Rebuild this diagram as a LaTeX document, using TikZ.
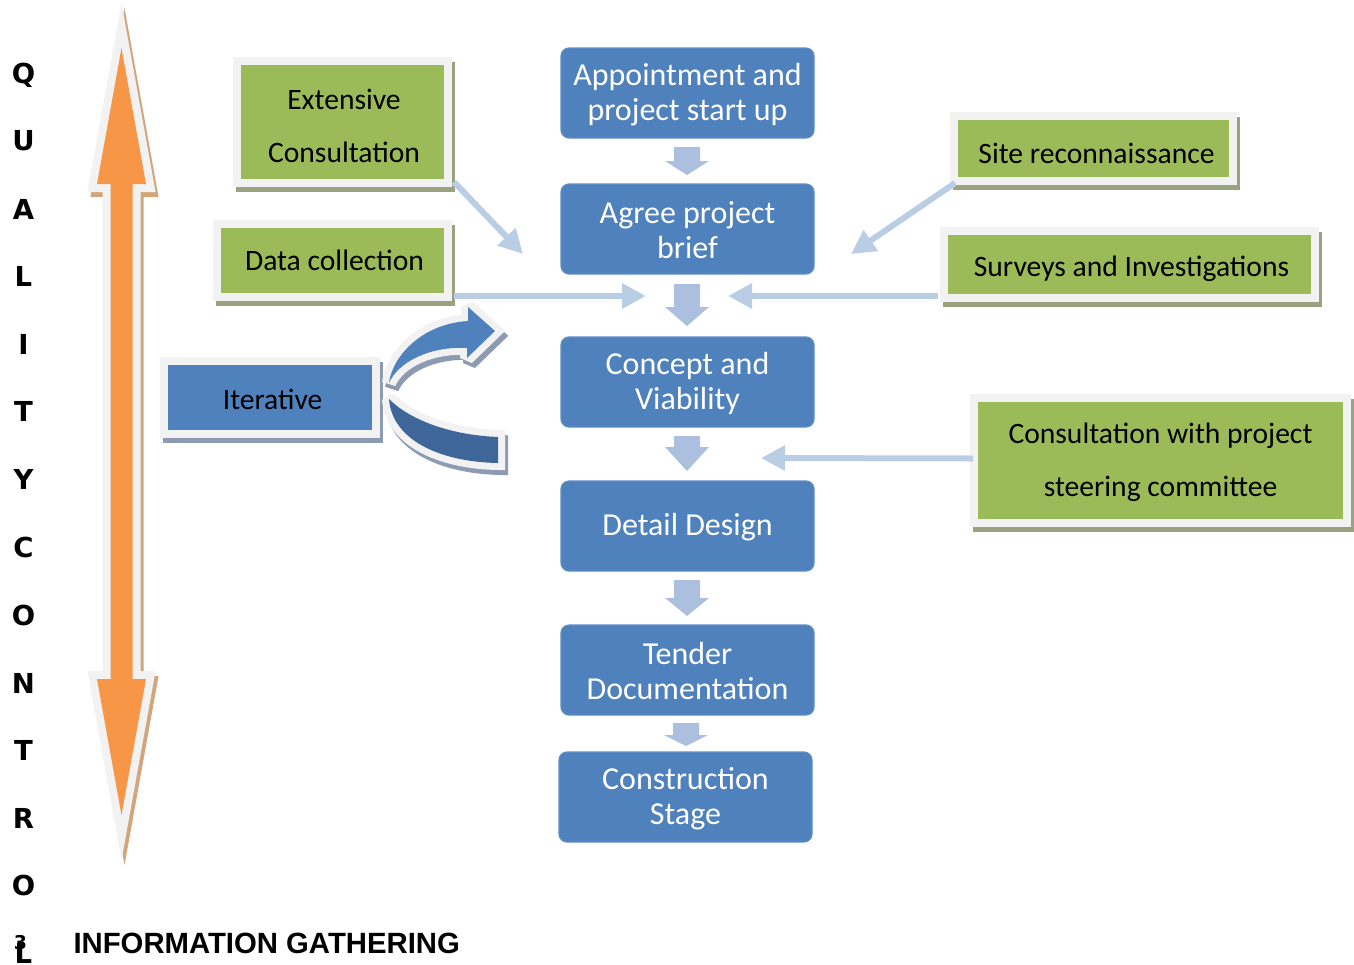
\documentclass[tikz,border=0pt]{standalone}
\usepackage{fontspec}
\setmainfont{Carlito}
\newfontfamily\headfont{Liberation Sans}
\newfontfamily\blackfont{DejaVu Sans}
\usetikzlibrary{arrows.meta,calc}

\definecolor{stepblue}{HTML}{4F81BD}
\definecolor{stepedge}{HTML}{5D8DC8}
\definecolor{flowcol}{HTML}{ADBFDF}
\definecolor{feedcol}{HTML}{B9CDE5}
\definecolor{inputgreen}{HTML}{9BBB59}
\definecolor{rimgrey}{HTML}{F2F2F2}
\definecolor{greenshade}{HTML}{9AA27F}
\definecolor{blueshade}{HTML}{8C9AB2}
\definecolor{tanshade}{HTML}{D3A57A}
\definecolor{qcorange}{HTML}{F79646}
\definecolor{backblue}{HTML}{3E6698}

% block arrow between two stages: top of shaft, base of head, tip
\newcommand\flowstep[4][687]{%
  \fill[flowcol] (#1-13,#2) -- (#1+13,#2) -- (#1+13,#3) -- (#1+22,#3)
    -- (#1,#4) -- (#1-22,#3) -- (#1-13,#3) -- cycle;}

% outline of the quality-control double arrow
\newcommand\qcpath{(121.5,48) -- (146,184) -- (132.5,184) -- (132.5,679)
  -- (146,679) -- (121.5,815) -- (97,679) -- (110.5,679) -- (110.5,184)
  -- (97,184) -- cycle}
% the two bands of the iteration arrow
\newcommand\frontband{(389,383) .. controls (392,358) and (420,324) .. (468,321)
  -- (468,307) -- (495,331) -- (467,358) -- (467,348)
  .. controls (430,346) and (398,362) .. (389,383) -- cycle}
\newcommand\backband{(389,399) .. controls (410,420) and (450,435) .. (498,437)
  -- (498,463) .. controls (440,462) and (392,440) .. (389,399) -- cycle}

\begin{document}
\begin{tikzpicture}[x=1pt,y=-1pt,
  stage/.style={rectangle, rounded corners=8pt, fill=stepblue, draw=stepedge,
    line width=1.2pt, minimum width=253pt, minimum height=90pt, inner sep=0pt},
  stagetext/.style={align=center, inner sep=0pt, text=white,
    font=\fontsize{32}{35}\selectfont},
  inputbox/.style={rectangle, fill=inputgreen, draw=rimgrey, line width=8pt,
    inner sep=0pt, preaction={fill=#1, draw=#1, line width=8pt,
      transform canvas={shift={(3pt,-5pt)}}}},
  inputbox/.default=greenshade,
  boxtext/.style={align=center, inner sep=0pt,
    font=\fontsize{29.6}{53}\selectfont},
  feed/.style={draw=feedcol, line width=6pt,
    -{Triangle[length=24pt,width=24pt]}},
  qc/.style={anchor=base, font=\blackfont\bfseries\fontsize{27.5}{28}\selectfont},
]
\useasboundingbox (0,0) rectangle (1354,964);

% quality-control double arrow: shadow, rim, body
\draw[tanshade, fill=tanshade, line width=16pt, line join=miter, shift={(3,5)}] \qcpath;
\draw[rimgrey, line width=16pt, line join=miter] \qcpath;
\fill[qcorange] \qcpath;

% side lettering
\foreach \ch/\yb/\nm in {Q/83/l1, U/150/l2, A/219/l3, L/286/l4, I/354/l5,
    T/421/l6, Y/489/l7, C/557/l8, O/625/l9, N/693/l10, T/760/l11, R/828/l12,
    O/895/l13, L/963/l14}
  \node[qc] (\nm) at (23.5,\yb) {\ch};
\node[anchor=base, font=\blackfont\bfseries\fontsize{19}{19}\selectfont] (pg) at (20.5,949) {3};
\node[anchor=base west, font=\headfont\bfseries\fontsize{29.3}{30}\selectfont] (info) at (70,953) {INFORMATION GATHERING};

% main stages
\node[stage] (b1) at (687.5,93)  {};
\node[stage] (b2) at (687.5,229) {};
\node[stage] (b3) at (687.5,382) {};
\node[stage] (b4) at (687.5,526) {};
\node[stage] (b5) at (687.5,670) {};
\node[stage] (b6) at (685.5,797) {};
\node[stagetext] (b1T) at ($(b1)+(0,2)$) {Appointment and\\project start up};
\node[stagetext] (b2T) at ($(b2)+(0,1)$) {Agree project\\brief};
\node[stagetext] (b3T) at ($(b3)+(0,1)$) {Concept and\\Viability};
\node[stagetext] (b4T) at ($(b4)+(0,1)$) {Detail Design};
\node[stagetext] (b5T) at ($(b5)+(0,1)$) {Tender\\Documentation};
\node[stagetext] (b6T) at ($(b6)+(0,2)$) {Construction\\Stage};

\flowstep{147}{161}{175}
\flowstep{284}{307}{326}
\flowstep{436}{447}{471}
\flowstep{580}{598}{616}
\flowstep[686]{723}{735}{746}

% inputs
\node[inputbox, minimum width=211pt, minimum height=122pt] (ext) at (342.5,122) {};
\node[inputbox, minimum width=231pt, minimum height=73pt] (dat) at (332.5,260.5) {};
\node[inputbox, minimum width=279pt, minimum height=65pt] (site) at (1093.5,148.5) {};
\node[inputbox, minimum width=371pt, minimum height=67pt] (surv) at (1129.5,264.5) {};
\node[inputbox, minimum width=373pt, minimum height=125pt] (steer) at (1160.5,460.5) {};
\node[boxtext] (extT)   at ($(ext)+(1.5,3.5)$)   {Extensive\\Consultation};
\node[boxtext] (datT)   at ($(dat)+(2,0)$)       {Data collection};
\node[boxtext] (siteT)  at ($(site)+(3,5)$)      {Site reconnaissance};
\node[boxtext] (survT)  at ($(surv)+(2,4)$)      {Surveys and Investigations};
\node[boxtext] (steerT) at ($(steer)+(0,2)$)     {Consultation with project\\steering committee};

% iteration
\node[inputbox=blueshade, fill=stepblue, minimum width=212pt, minimum height=73pt] (iter) at (270,397.5) {};
\node[boxtext, font=\fontsize{29.5}{35}\selectfont] (iterT) at ($(iter)+(2.5,1.5)$) {Iterative};
\begin{scope}[line width=14pt, line join=miter, miter limit=2]
  \draw[blueshade, fill=blueshade, shift={(3,5)}] \backband;
  \draw[blueshade, fill=blueshade, shift={(3,5)}] \frontband;
  \draw[rimgrey] \backband;
  \draw[rimgrey] \frontband;
\end{scope}
\fill[backblue] \backband;
\fill[stepblue] \frontband;

% feeds into the stage chain
\coordinate (tipExt)   at (523,254);
\coordinate (tipData)  at (646,296);
\coordinate (tipSurv)  at (728,296);
\coordinate (tipSite)  at (851,254);
\coordinate (tipSteer) at (761,458);
\draw[feed] ($(ext.south east)+(2,-5)$) -- (tipExt);
\draw[feed] ($(dat.south east)+(2,-5)$) -- (tipData);
\draw[feed] ($(surv.south west)+(-2,-6)$) -- (tipSurv);
\draw[feed] ($(site.south west)+(5,-2)$) -- (tipSite);
\draw[feed] ($(steer.west)+(3,-2)$) -- (tipSteer);
\end{tikzpicture}
\end{document}
